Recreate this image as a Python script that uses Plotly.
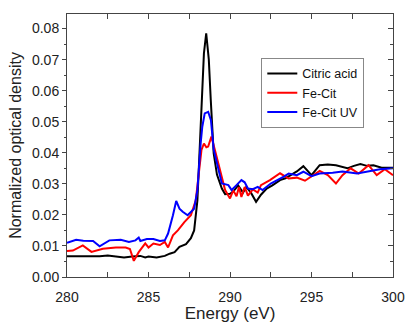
import plotly.graph_objects as go

# Energy axis (eV) and normalized optical density for each sample
energy_citric = [280, 280.5, 281, 281.5, 282, 282.5, 283, 283.5, 284, 284.5, 284.8, 285, 285.5,
                 286, 286.3, 286.6, 286.9, 287.3, 287.6, 287.8, 288.0, 288.1, 288.25, 288.4,
                 288.54, 288.7, 288.82, 289.0, 289.2, 289.5, 289.7, 290.0, 290.2, 290.5, 290.8,
                 291.0, 291.3, 291.6, 291.9, 292.25, 292.6, 293.07, 293.4, 293.7, 294.1, 294.5,
                 295.0, 295.5, 296.0, 296.5, 297.2, 297.6, 298.0, 298.4, 298.8, 299.3, 300]
od_citric = [0.0067, 0.0067, 0.0066, 0.0068, 0.0067, 0.0069, 0.0065, 0.0063, 0.0066, 0.0068,
             0.0063, 0.0066, 0.0063, 0.0068, 0.0075, 0.0080, 0.0097, 0.0106, 0.0125, 0.0150,
             0.0247, 0.0360, 0.0570, 0.0720, 0.0785, 0.0700, 0.0570, 0.0398, 0.0330, 0.0285,
             0.0267, 0.0268, 0.0275, 0.0295, 0.0272, 0.0290, 0.0270, 0.0242, 0.0265, 0.0285,
             0.0295, 0.0312, 0.0318, 0.0328, 0.0340, 0.0357, 0.0328, 0.0360, 0.0362, 0.0360,
             0.0350, 0.0358, 0.0364, 0.0358, 0.0360, 0.0352, 0.0352]

energy_fecit = [280, 280.36, 280.97, 281.5, 282.2, 283.0, 283.6, 283.86, 284.1, 284.4, 284.8,
                285.0, 285.3, 285.7, 286.0, 286.2, 286.5, 286.8, 287.2, 287.6, 287.9, 288.1,
                288.25, 288.4, 288.55, 288.66, 288.86, 289.07, 289.27, 289.5, 289.7, 290.0,
                290.2, 290.4, 290.55, 290.7, 290.9, 291.1, 291.4, 291.7, 291.9, 292.45, 293.07,
                293.6, 294.1, 294.6, 295.1, 295.5, 296.0, 296.5, 296.9, 297.4, 297.9, 298.5,
                299.0, 299.5, 300]
od_fecit = [0.0084, 0.0085, 0.0102, 0.0081, 0.0091, 0.0095, 0.0095, 0.0090, 0.0052, 0.0080,
            0.0108, 0.0095, 0.0108, 0.0103, 0.0113, 0.0095, 0.0134, 0.0150, 0.0177, 0.0199,
            0.0247, 0.0344, 0.0409, 0.0430, 0.0418, 0.0420, 0.0452, 0.0410, 0.0370, 0.0323,
            0.0280, 0.0253, 0.0279, 0.0260, 0.0290, 0.0258, 0.0290, 0.0262, 0.0282, 0.0272,
            0.0296, 0.0312, 0.0334, 0.0317, 0.0320, 0.0310, 0.0328, 0.0342, 0.0328, 0.0301,
            0.0328, 0.0350, 0.0333, 0.0360, 0.0328, 0.0347, 0.0328]

energy_fecit_uv = [280, 280.56, 281.0, 281.6, 282.0, 282.6, 283.3, 283.8, 284.2, 284.4, 284.5,
                   284.9, 285.3, 285.7, 286.0, 286.2, 286.5, 286.7, 286.9, 287.1, 287.4, 287.8,
                   288.0, 288.1, 288.2, 288.3, 288.45, 288.66, 288.83, 289.0, 289.27, 289.5,
                   289.9, 290.1, 290.4, 290.7, 290.9, 291.1, 291.4, 291.7, 292.0, 292.5, 293.3,
                   293.6, 294.1, 294.5, 295.0, 295.5, 296.3, 296.9, 297.8, 298.4, 299.2, 300]
od_fecit_uv = [0.0110, 0.0120, 0.0117, 0.0116, 0.0099, 0.0118, 0.0120, 0.0113, 0.0118, 0.0127,
               0.0116, 0.0122, 0.0122, 0.0116, 0.0118, 0.0140, 0.0199, 0.0245, 0.0220, 0.0210,
               0.0199, 0.0220, 0.0280, 0.0376, 0.0430, 0.0484, 0.0527, 0.0532, 0.0505, 0.0410,
               0.0355, 0.0301, 0.0296, 0.0280, 0.0296, 0.0312, 0.0305, 0.0285, 0.0283, 0.0290,
               0.0280, 0.0301, 0.0323, 0.0333, 0.0328, 0.0339, 0.0325, 0.0333, 0.0336, 0.0340,
               0.0333, 0.0340, 0.0347, 0.0350]

x_range = [280, 300]
y_range = [0, 0.0847]
x_ticks = [280, 285, 290, 295, 300]
y_ticks = [0.00, 0.01, 0.02, 0.03, 0.04, 0.05, 0.06, 0.07, 0.08]

FONT = "Liberation Sans, Arial, sans-serif"

fig = go.Figure()
fig.add_trace(go.Scatter(x=energy_citric, y=od_citric, mode="lines", name="Citric acid",
                         line=dict(color="black", width=2)))
fig.add_trace(go.Scatter(x=energy_fecit, y=od_fecit, mode="lines", name="Fe-Cit",
                         line=dict(color="#ff0000", width=2)))
fig.add_trace(go.Scatter(x=energy_fecit_uv, y=od_fecit_uv, mode="lines", name="Fe-Cit UV",
                         line=dict(color="#0000ff", width=2)))
# invisible trace bound to the right-hand axis so its inward ticks are drawn
fig.add_trace(go.Scatter(x=[280], y=[0], yaxis="y2", mode="markers", showlegend=False,
                         marker=dict(opacity=0), hoverinfo="skip"))

axis_common = dict(showgrid=False, zeroline=False, linecolor="#444", linewidth=1,
                   tickcolor="#444", tickfont=dict(family=FONT, size=14, color="#222"),
                   automargin=False)

fig.update_layout(
    width=408, height=323,
    margin=dict(l=67, r=15, t=14, b=46),
    paper_bgcolor="white", plot_bgcolor="white",
    font=dict(family=FONT, color="#222"),
    xaxis=dict(range=x_range, tickvals=x_ticks, ticktext=[str(v) for v in x_ticks],
               ticks="inside", ticklen=5, mirror="allticks", showline=True,
               ticklabelstandoff=7,
               minor=dict(dtick=2.5, ticks="inside", ticklen=3, tickcolor="#444"),
               title=dict(text="Energy (eV)", font=dict(family=FONT, size=17, color="#222"),
                          standoff=6),
               **axis_common),
    yaxis=dict(range=y_range, tickvals=y_ticks, ticktext=[f"{v:.2f}" for v in y_ticks],
               ticks="outside", ticklen=4, mirror=True, showline=True,
               minor=dict(dtick=0.005, ticks="outside", ticklen=2, tickcolor="#444"),
               title=dict(text="Normalized optical density",
                          font=dict(family=FONT, size=16, color="#222"), standoff=6),
               **axis_common),
    yaxis2=dict(range=y_range, overlaying="y", side="right", tickvals=y_ticks,
                showticklabels=False, ticks="inside", ticklen=5, showline=False,
                showgrid=False, zeroline=False, tickcolor="#444", automargin=False,
                minor=dict(dtick=0.005, ticks="inside", ticklen=3, tickcolor="#444")),
    legend=dict(x=0.596, y=0.833, xanchor="left", yanchor="top",
                bgcolor="white", bordercolor="#888", borderwidth=1,
                font=dict(family=FONT, size=12.5, color="#111"),
                tracegroupgap=0, itemwidth=30),
    showlegend=True,
)

fig.write_html("out.html")
